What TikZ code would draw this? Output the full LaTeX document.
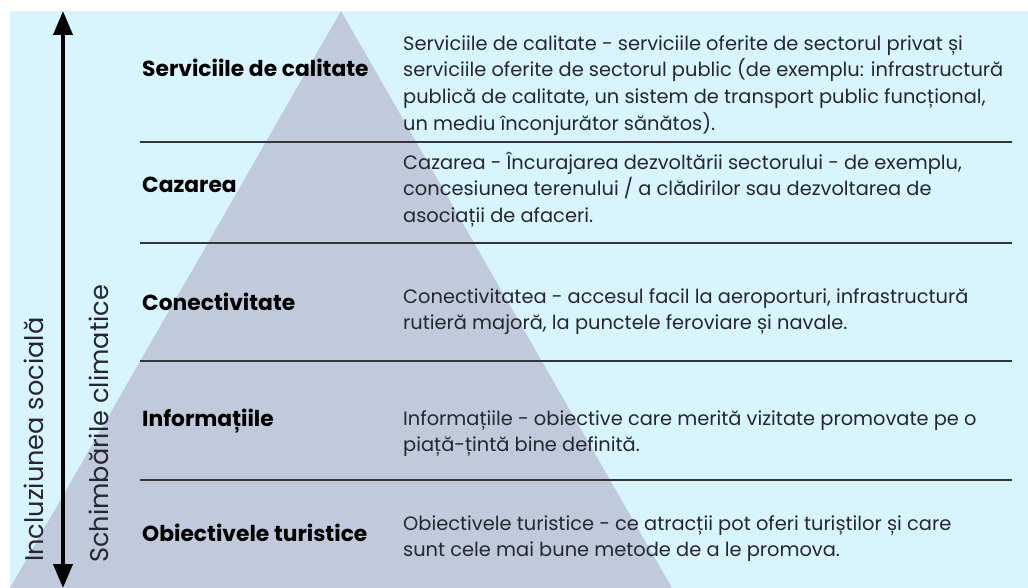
\documentclass[tikz,border=0pt]{standalone}
\usepackage{fontspec}
\setmainfont{Poppins}
\usetikzlibrary{arrows.meta}
\definecolor{bgcyan}{RGB}{216,245,253}
\definecolor{pyrblue}{RGB}{192,202,220}
\definecolor{rulegray}{RGB}{52,52,58}
\definecolor{txtdark}{RGB}{38,38,48}
\begin{document}
\begin{tikzpicture}[x=1pt,y=-1pt,
  desc/.style={anchor=north west,inner sep=0pt,align=left,text=txtdark,
    font=\fontsize{19.4}{26.7}\selectfont},
  lvl/.style={anchor=base west,inner sep=0pt,text=black,
    font=\fontsize{21.8}{26}\selectfont\bfseries},
  side/.style={anchor=base west,inner sep=0pt,rotate=90,text=txtdark,
    font=\fontsize{25.6}{30}\selectfont},
  sep/.style={draw=rulegray,line width=2pt},
  axis/.style={line width=4pt,{Triangle[width=19pt,length=24pt]}-{Triangle[width=19pt,length=24pt]}}]
\useasboundingbox (0,0) rectangle (1028,588);
\fill[white] (0,0) rectangle (1028,588);
\fill[bgcyan] (10,11) rectangle (1028,588);
\fill[pyrblue] (341,11) -- (10,588) -- (672,588) -- cycle;
% separators
\draw[sep] (140,142.5) -- (1012,142.5);
\draw[sep] (140,243) -- (1012,243);
\draw[sep] (140,361) -- (1012,361);
\draw[sep] (140,480) -- (1012,480);
% axis
\coordinate (axtop) at (63,11);
\coordinate (axbot) at (63,588);
\draw[axis] (axbot) -- (axtop);
\node[side] (incl) at (43,562) {Incluziunea socială};
\node[side] (schimb) at (108,563) {Schimbările climatice};
% level labels
\node[lvl] (l1) at (142,77) {Serviciile de calitate};
\node[lvl] (l2) at (142,193) {Cazarea};
\node[lvl] (l3) at (142,310.5) {Conectivitate};
\node[lvl] (l4) at (142,426) {Informațiile};
\node[lvl] (l5) at (142,541) {Obiectivele turistice};
% descriptions
\node[desc] (d1) at (403,31.3) {\strut Serviciile de calitate - serviciile oferite de sectorul privat și\\
serviciile oferite de sectorul public (de exemplu: infrastructură\\
publică de calitate, un sistem de transport public funcțional,\\
un mediu înconjurător sănătos).};
\node[desc] (d2) at (403,150.3) {\strut Cazarea - Încurajarea dezvoltării sectorului - de exemplu,\\
concesiunea terenului / a clădirilor sau dezvoltarea de\\
asociații de afaceri.};
\node[desc] (d3) at (403,284.3) {\strut Conectivitatea - accesul facil la aeroporturi, infrastructură\\
rutieră majoră, la punctele feroviare și navale.};
\node[desc] (d4) at (403,406.3) {\strut Informațiile - obiective care merită vizitate promovate pe o\\
piață-țintă bine definită.};
\node[desc] (d5) at (403,511.3) {\strut Obiectivele turistice - ce atracții pot oferi turiștilor și care\\
sunt cele mai bune metode de a le promova.};
\end{tikzpicture}
\end{document}
